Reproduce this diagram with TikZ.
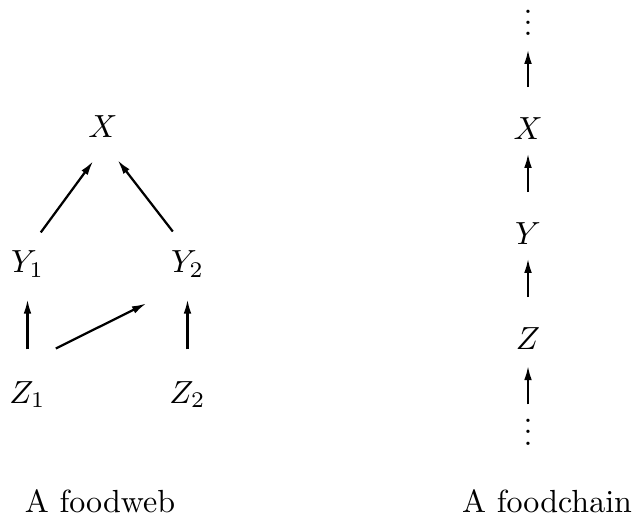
\documentclass[tikz,border=0pt]{standalone}
\usetikzlibrary{arrows.meta}
\newcommand{\dotcol}{\vbox{\baselineskip3.5pt \lineskiplimit0pt \hbox{.}\hbox{.}\hbox{.}}}
\begin{document}
\begin{tikzpicture}[x=31.25pt, y=31.25pt,
    sp/.style={inner sep=0pt, anchor=base},
    arr/.style={-{Latex[length=4.5pt,width=2.4pt]}, line width=0.7pt},
    up/.style={arr, shorten <=9.5pt, shorten >=4pt}]
    \useasboundingbox (0,0) rectangle (6.33,5.19);

    % Foodweb
    \node[sp] (X) at (1.03,3.81) {$X$};
    \node[sp] (Y1) at (0.275,2.46) {$Y_1$};
    \node[sp] (Y2) at (1.875,2.46) {$Y_2$};
    \node[sp] (Z1) at (0.275,1.16) {$Z_1$};
    \node[sp] (Z2) at (1.875,1.16) {$Z_2$};
    \draw[arr, shorten <=7pt, shorten >=8.7pt] (Y1.north) -- (X.-60);
    \draw[arr, shorten <=7.5pt, shorten >=8.5pt] (Y2.north) -- (X.-100);
    \draw[arr, shorten <=9.7pt, shorten >=6.5pt] (Z1.north) -- (Y1.south);
    \draw[arr, shorten <=9.7pt, shorten >=6.5pt] (Z2.north) -- (Y2.south);
    \draw[arr] ([shift={(3pt,10pt)}]Z1.north east) -- ([shift={(-7.5pt,-7.8pt)}]Y2.south west);

    % Foodchain
    \node[sp] (tdots) at (5.28,4.83) {\dotcol};
    \node[sp] (cX) at (5.28,3.79) {$X$};
    \node[sp] (cY) at (5.28,2.74) {$Y$};
    \node[sp] (cZ) at (5.28,1.69) {$Z$};
    \node[sp] (bdots) at (5.28,0.74) {\dotcol};
    \draw[up] (cX.north) -- (tdots.south);
    \draw[up] (cY.north) -- (cX.south);
    \draw[up] (cZ.north) -- (cY.south);
    \draw[arr, shorten <=4.4pt, shorten >=4.7pt] (bdots.north) -- (cZ.south);

    % Captions
    \node[sp] (web) at (1.00,0.07) {A foodweb};
    \node[sp] (chain) at (5.47,0.07) {A foodchain};
\end{tikzpicture}
\end{document}
